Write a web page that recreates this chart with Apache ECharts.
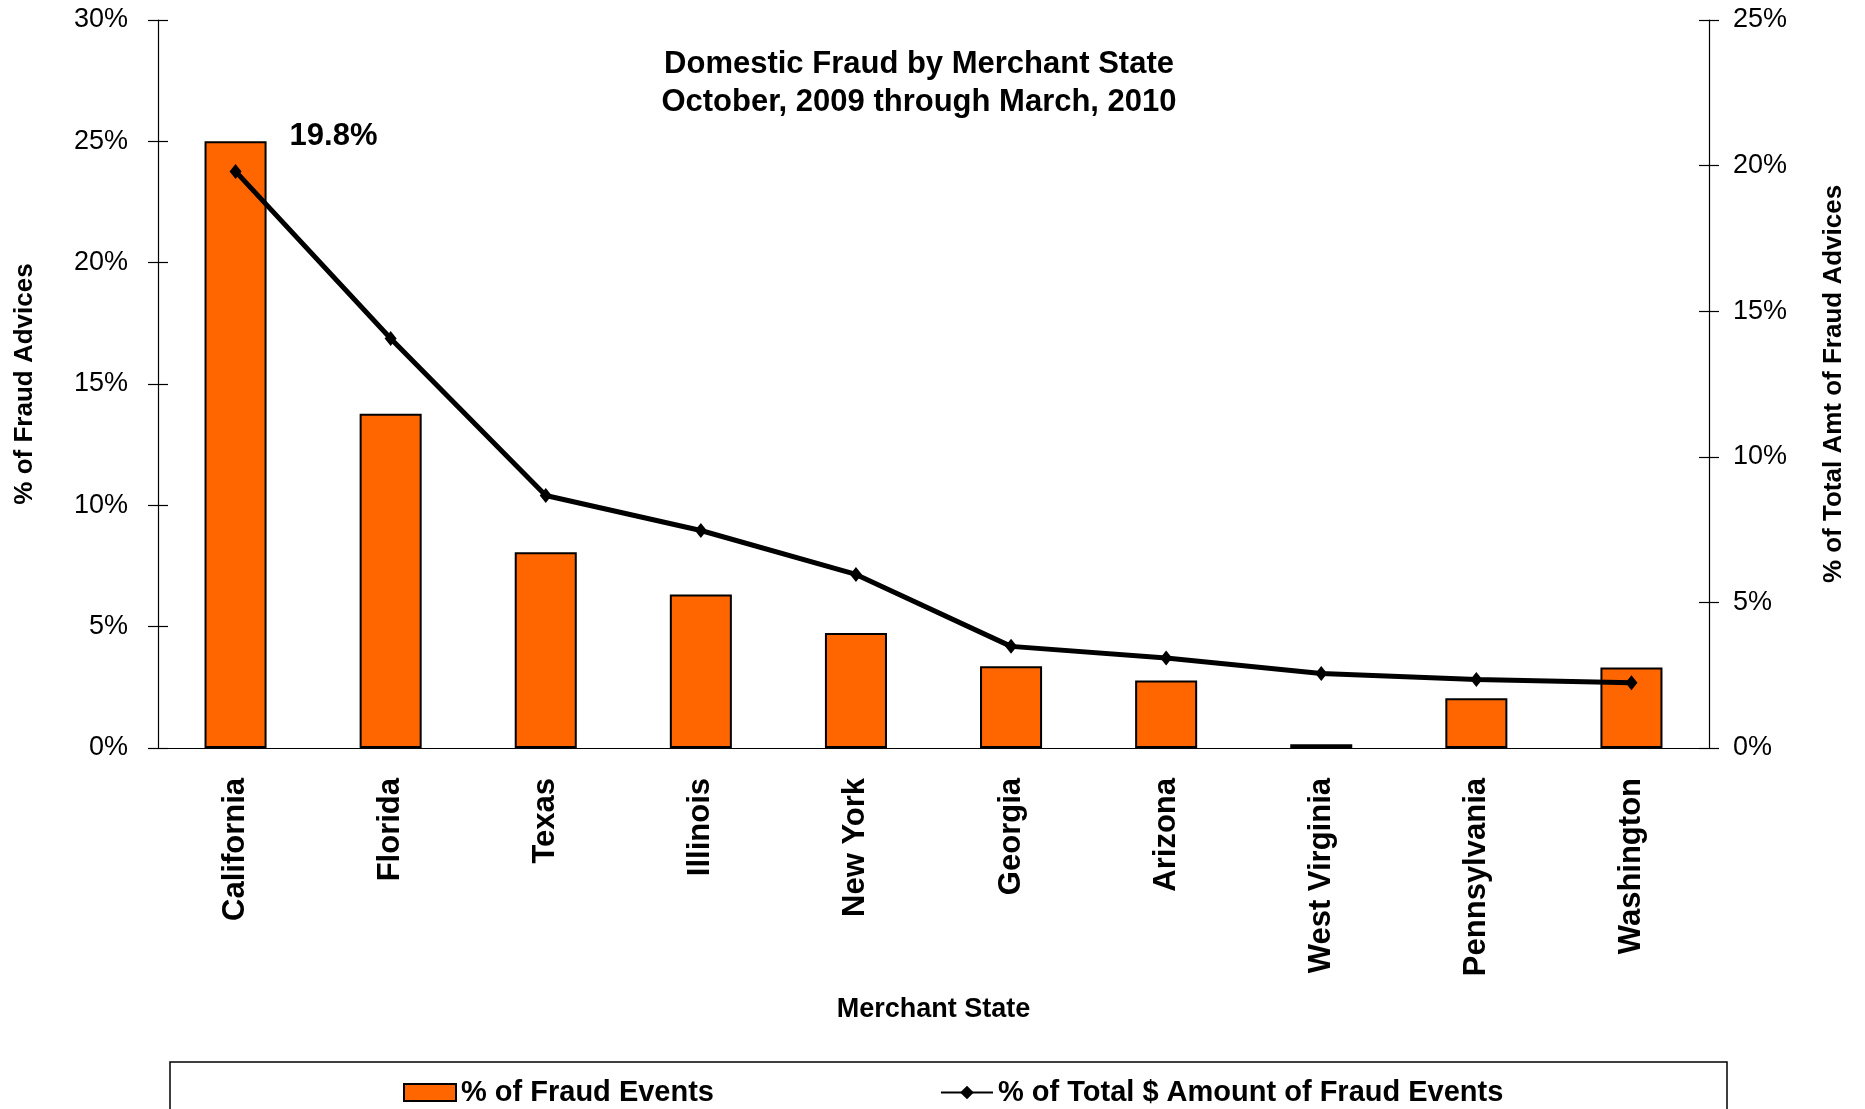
<!DOCTYPE html>
<html>
<head>
<meta charset="utf-8">
<title>Domestic Fraud by Merchant State</title>
<script src="https://cdn.jsdelivr.net/npm/echarts@6/dist/echarts.min.js"></script>
<style>
  html, body { margin: 0; padding: 0; background: #ffffff; }
  #chart { width: 1865px; height: 1109px; }
</style>
</head>
<body>
<div id="chart"></div>
<script>
// data
const states = ['California', 'Florida', 'Texas', 'Illinois', 'New York',
  'Georgia', 'Arizona', 'West Virginia', 'Pennsylvania', 'Washington']
const fraudEventsPct = [25.0, 13.77, 8.07, 6.33, 4.74, 3.37, 2.78, 0.15, 2.05, 3.32] // left axis
const fraudAmountPct = [19.8, 14.06, 8.67, 7.47, 5.96, 3.49, 3.09, 2.56, 2.35, 2.24] // right axis
const leftTicks = { min: 0, max: 30, interval: 5 }
const rightTicks = { min: 0, max: 25, interval: 5 }

const FONT = 'Liberation Sans, Arial, sans-serif'
const ORANGE = '#ff6600'

const chart = echarts.init(document.getElementById('chart'))

// shared axis look; ticks cross the axis line, so each y axis gets an
// invisible twin that draws the inside half of the tick
const yBase = (ticks, pos) => ({
  type: 'value',
  position: pos,
  min: ticks.min,
  max: ticks.max,
  interval: ticks.interval,
  splitLine: { show: false },
  axisLine: { show: true, lineStyle: { color: '#000', width: 1.2 } },
  axisTick: { show: true, length: 10, lineStyle: { color: '#000', width: 1.2 } },
})

chart.setOption({
  backgroundColor: '#ffffff',
  textStyle: { fontFamily: FONT, color: '#000' },
  title: {
    text: 'Domestic Fraud by Merchant State\nOctober, 2009 through March, 2010',
    left: 914,
    top: 40,
    textAlign: 'center',
    textStyle: { fontFamily: FONT, fontSize: 31, fontWeight: 'bold', lineHeight: 38, color: '#000' },
  },
  grid: { left: 158, right: 156, top: 20, bottom: 361 },
  graphic: [{
    type: 'rect',
    shape: { x: 170, y: 1062, width: 1557, height: 80 },
    style: { fill: '#fff', stroke: '#000', lineWidth: 1.5 },
    z: -1,
  }],
  legend: {
    left: 398,
    top: 1073,
    itemWidth: 52,
    itemHeight: 17,
    itemGap: 226,
    textStyle: { fontFamily: FONT, fontSize: 29, fontWeight: 'bold', color: '#000' },
    data: [
      { name: '% of Fraud Events', icon: 'rect' },
      { name: '% of Total $ Amount of Fraud Events' },
    ],
  },
  xAxis: {
    type: 'category',
    data: states,
    name: 'Merchant State',
    nameLocation: 'middle',
    nameGap: 248,
    nameTextStyle: { fontFamily: FONT, fontSize: 27, fontWeight: 'bold', color: '#000' },
    axisLine: { lineStyle: { color: '#000', width: 1.2 } },
    axisTick: { length: 10, lineStyle: { color: '#000', width: 1.2 } },
    axisLabel: { rotate: 90, margin: 30, fontSize: 31, fontWeight: 'bold', color: '#000', fontFamily: FONT },
  },
  yAxis: [
    Object.assign(yBase(leftTicks, 'left'), {
      name: '% of Fraud Advices',
      nameLocation: 'middle',
      nameRotate: 90,
      nameGap: 120,
      nameTextStyle: { fontFamily: FONT, fontSize: 26, fontWeight: 'bold', color: '#000' },
      axisLabel: { formatter: '{value}%', margin: 30, fontSize: 27, color: '#000', fontFamily: FONT },
    }),
    Object.assign(yBase(rightTicks, 'right'), {
      name: '% of Total Amt of Fraud Advices',
      nameLocation: 'middle',
      nameRotate: 90,
      nameGap: 112,
      nameTextStyle: { fontFamily: FONT, fontSize: 26, fontWeight: 'bold', color: '#000' },
      axisLabel: { formatter: '{value}%', margin: 24, fontSize: 27, color: '#000', fontFamily: FONT },
    }),
    Object.assign(yBase(leftTicks, 'left'), {
      axisLine: { show: false },
      axisTick: { show: true, inside: true, length: 10, lineStyle: { color: '#000', width: 1.2 } },
      axisLabel: { show: false },
    }),
    Object.assign(yBase(rightTicks, 'right'), {
      axisLine: { show: false },
      axisTick: { show: true, inside: true, length: 10, lineStyle: { color: '#000', width: 1.2 } },
      axisLabel: { show: false },
    }),
  ],
  series: [
    {
      name: '% of Fraud Events',
      type: 'bar',
      yAxisIndex: 0,
      barWidth: '40%',
      data: fraudEventsPct,
      itemStyle: { color: ORANGE, borderColor: '#000', borderWidth: 2 },
    },
    {
      name: '% of Total $ Amount of Fraud Events',
      type: 'line',
      yAxisIndex: 1,
      symbol: 'diamond',
      symbolSize: [12, 15],
      color: '#000',
      lineStyle: { color: '#000', width: 5 },
      itemStyle: { color: '#000' },
      z: 5,
      data: fraudAmountPct.map((v, i) => i === 0 ? {
        value: v,
        label: {
          show: true,
          position: 'top',
          offset: [98, -7],
          formatter: '{c}%',
          fontFamily: FONT,
          fontSize: 31,
          fontWeight: 'bold',
          color: '#000',
        },
      } : v),
    },
  ],
})
</script>
</body>
</html>
